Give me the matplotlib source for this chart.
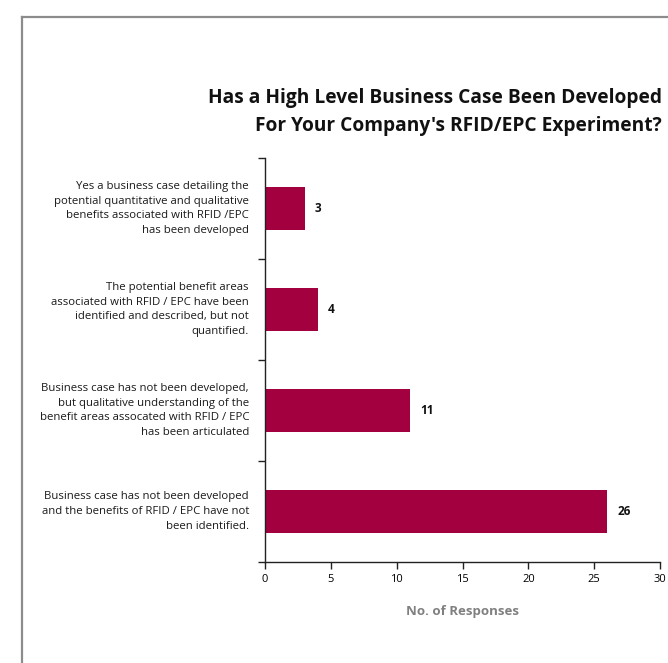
import matplotlib
matplotlib.use("Agg")
import matplotlib.pyplot as plt
from matplotlib.lines import Line2D

plt.rcParams['font.family'] = ['Open Sans', 'DejaVu Sans']

categories = [
    "Yes a business case detailing the\npotential quantitative and qualitative\nbenefits associated with RFID /EPC\nhas been developed",
    "The potential benefit areas\nassociated with RFID / EPC have been\nidentified and described, but not\nquantified.",
    "Business case has not been developed,\nbut qualitative understanding of the\nbenefit areas assocated with RFID / EPC\nhas been articulated",
    "Business case has not been developed\nand the benefits of RFID / EPC have not\nbeen identified.",
]
responses = [3, 4, 11, 26]
x_ticks = [0, 5, 10, 15, 20, 25, 30]

title = "Has a High Level Business Case Been Developed\nFor Your Company's RFID/EPC Experiment?"
x_label = "No. of Responses"

bar_color = "#A3003F"

fig = plt.figure(figsize=(6.68, 6.63), dpi=100)
fig.patch.set_facecolor("white")

# panel frame (top and left edges)
fig.add_artist(Line2D([22/668, 22/668], [0, 1 - 17/663], transform=fig.transFigure,
                      color="#8c8c8c", lw=1.6))
fig.add_artist(Line2D([22/668, 1], [1 - 17/663, 1 - 17/663], transform=fig.transFigure,
                      color="#8c8c8c", lw=1.6))

ax = fig.add_axes([265/668, 1 - 562/663, (660 - 265)/668, (562 - 158)/663])
ypos = list(range(len(categories)))
ax.barh(ypos, responses, height=0.435, color=bar_color)
ax.set_ylim(len(categories) - 0.5, -0.5)
ax.set_xlim(0, 30)

for y, v in zip(ypos, responses):
    ax.annotate(str(v), (v, y), xytext=(10, 0), textcoords="offset pixels",
                ha="left", va="center", fontsize=8.5, fontweight="bold", color="#111111")

for y, lab in zip(ypos, categories):
    ax.annotate(lab, (0, y), xycoords=("axes fraction", "data"), xytext=(-16, 0),
                textcoords="offset pixels", ha="right", va="center",
                fontsize=8.2, linespacing=1.45, color="#1a1a1a")

ax.set_yticks([-0.5, 0.5, 1.5, 2.5, 3.5])
ax.set_yticklabels([])
ax.set_xticks(x_ticks)
ax.set_xticklabels([str(t) for t in x_ticks], fontsize=8)
ax.tick_params(axis="both", direction="out", length=5, width=1, color="#222222")
ax.tick_params(axis="x", pad=4)
for s in ("top", "right"):
    ax.spines[s].set_visible(False)
for s in ("left", "bottom"):
    ax.spines[s].set_color("#222222")
    ax.spines[s].set_linewidth(1)

ax.set_xlabel(x_label, fontsize=9.5, fontweight="bold", color="#808080", labelpad=14)

fig.text(662/668, 1 - 112/663, title, ha="right", va="center", fontsize=13.8,
         fontweight="bold", linespacing=1.55, color="#111111")

fig.savefig("out.png", dpi=100, facecolor="white")
